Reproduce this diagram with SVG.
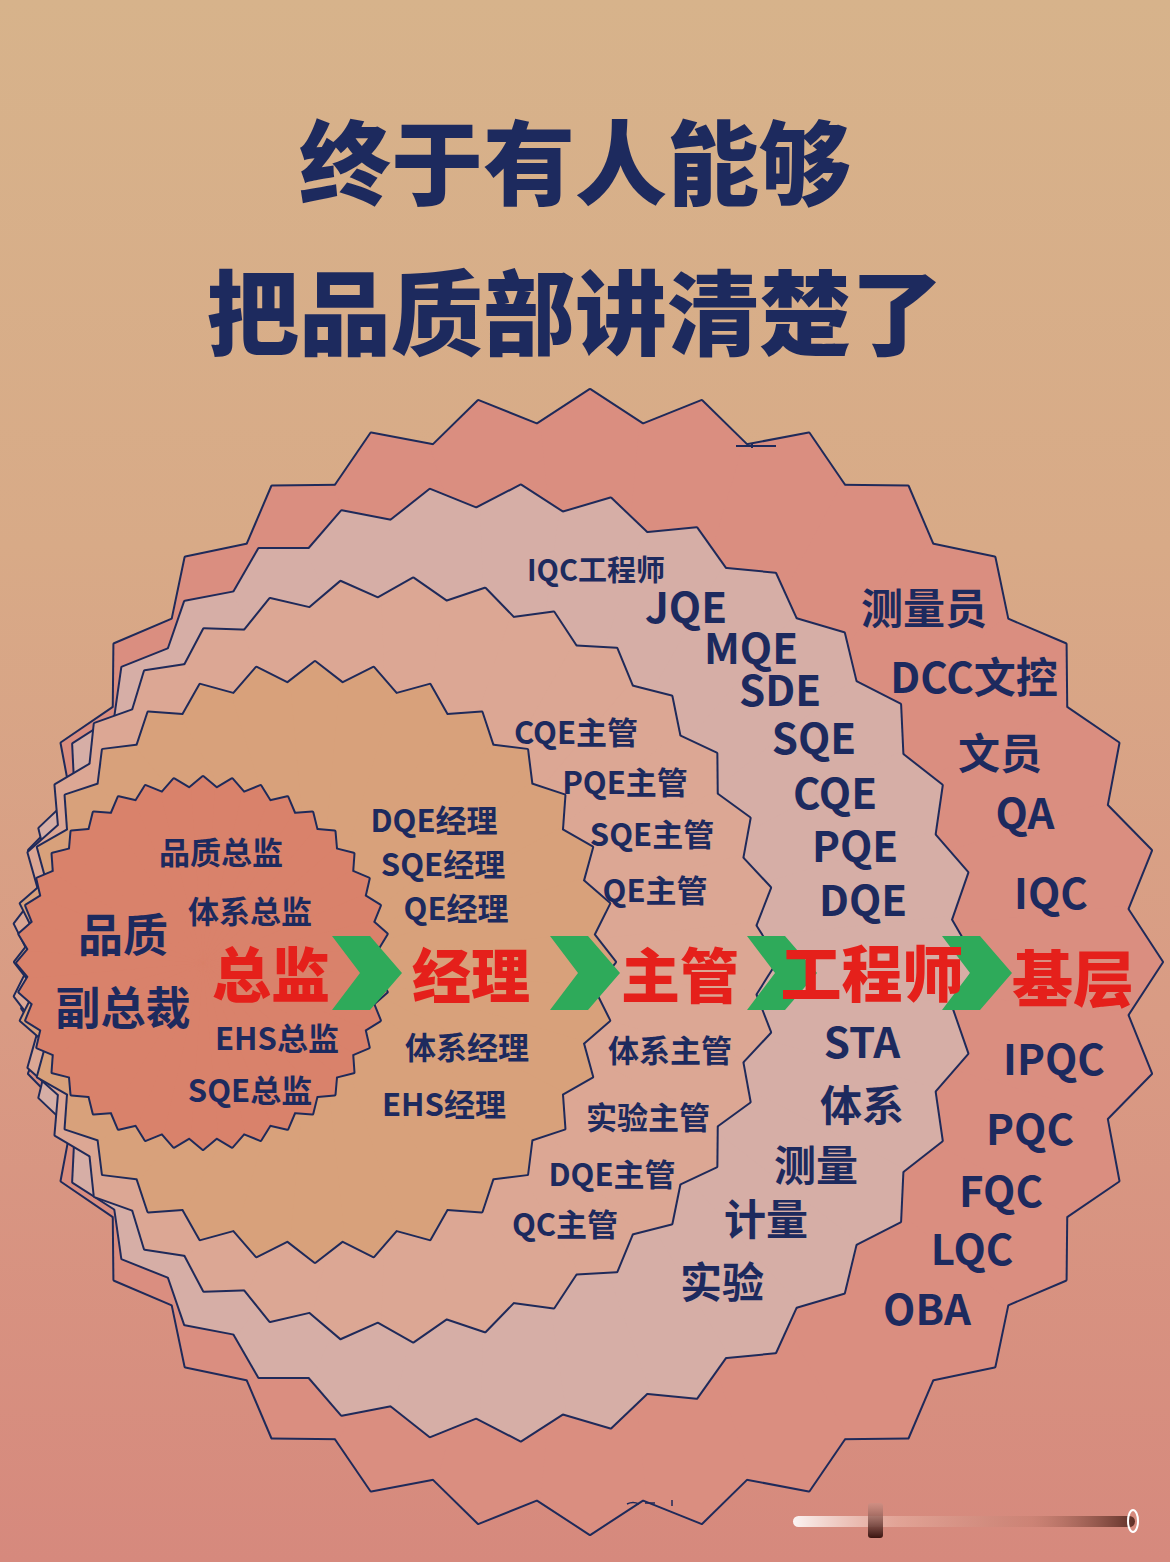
<svg xmlns="http://www.w3.org/2000/svg" xmlns:xlink="http://www.w3.org/1999/xlink" width="1170" height="1562" viewBox="0 0 1170 1562">
<style>
.ol{fill:#1f2a5a;stroke:#1f2a5a;stroke-width:4;stroke-linejoin:round}
.t{font-family:"Noto Sans CJK SC","Noto Sans CJK JP","Noto Sans",sans-serif;font-weight:700;fill:#1d2a5e;text-anchor:middle;dominant-baseline:central}
.s{font-size:31px}
.m{font-size:42px}
.b{font-size:45px}
.r{font-size:59px;fill:#e5201b;font-weight:900}
.h{font-size:92px;font-weight:900}
.chev{fill:#2eaa5a}
</style>
<defs>
<linearGradient id="bg" x1="0" y1="0" x2="0" y2="1">
<stop offset="0" stop-color="#d7b38b"/>
<stop offset="0.35" stop-color="#d8aa87"/>
<stop offset="0.65" stop-color="#d99b84"/>
<stop offset="1" stop-color="#d6897d"/>
</linearGradient>
<linearGradient id="bar" x1="0" y1="0" x2="1" y2="0">
<stop offset="0" stop-color="#ffffff" stop-opacity="0.9"/>
<stop offset="0.3" stop-color="#f0c4b6" stop-opacity="0.45"/>
<stop offset="0.7" stop-color="#b97566" stop-opacity="0.35"/>
<stop offset="1" stop-color="#4a2018" stop-opacity="0.85"/>
</linearGradient>
<linearGradient id="mark" x1="0" y1="0" x2="0" y2="1">
<stop offset="0" stop-color="#c99085" stop-opacity="0.6"/>
<stop offset="1" stop-color="#3a1410"/>
</linearGradient>
<path id="chevron" d="M0,0H38L70,37L38,74H0L28,37Z"/>
<path id="k5" d="M0,-572L56.28,-535.21L0,0L-56.28,-535.21Z"/>
<path id="k4" d="M0,-478L46.71,-450.94L0,0L-46.71,-450.94Z"/>
<path id="k3" d="M0,-382L37.80,-358.23L0,0L-37.80,-358.23Z"/>
<path id="k2" d="M0,-300L29.82,-276.81L0,0L-29.82,-276.81Z"/>
<path id="k1" d="M0,-186L15.26,-173.17L0,0L-15.26,-173.17Z"/>
<g id="s5"><circle r="432"/>
<use href="#k5"/><use href="#k5" transform="rotate(11.25)"/><use href="#k5" transform="rotate(22.5)"/><use href="#k5" transform="rotate(33.75)"/>
<use href="#k5" transform="rotate(45)"/><use href="#k5" transform="rotate(56.25)"/><use href="#k5" transform="rotate(67.5)"/><use href="#k5" transform="rotate(78.75)"/>
<use href="#k5" transform="rotate(90)"/><use href="#k5" transform="rotate(101.25)"/><use href="#k5" transform="rotate(112.5)"/><use href="#k5" transform="rotate(123.75)"/>
<use href="#k5" transform="rotate(135)"/><use href="#k5" transform="rotate(146.25)"/><use href="#k5" transform="rotate(157.5)"/><use href="#k5" transform="rotate(168.75)"/>
<use href="#k5" transform="rotate(180)"/><use href="#k5" transform="rotate(191.25)"/><use href="#k5" transform="rotate(202.5)"/><use href="#k5" transform="rotate(213.75)"/>
<use href="#k5" transform="rotate(225)"/><use href="#k5" transform="rotate(236.25)"/><use href="#k5" transform="rotate(247.5)"/><use href="#k5" transform="rotate(258.75)"/>
<use href="#k5" transform="rotate(270)"/><use href="#k5" transform="rotate(281.25)"/><use href="#k5" transform="rotate(292.5)"/><use href="#k5" transform="rotate(303.75)"/>
<use href="#k5" transform="rotate(315)"/><use href="#k5" transform="rotate(326.25)"/><use href="#k5" transform="rotate(337.5)"/><use href="#k5" transform="rotate(348.75)"/>
</g>
<g id="s4"><circle r="364"/>
<use href="#k4" transform="rotate(2.727)"/><use href="#k4" transform="rotate(13.636)"/><use href="#k4" transform="rotate(24.545)"/><use href="#k4" transform="rotate(35.455)"/>
<use href="#k4" transform="rotate(46.364)"/><use href="#k4" transform="rotate(57.273)"/><use href="#k4" transform="rotate(68.182)"/><use href="#k4" transform="rotate(79.091)"/>
<use href="#k4" transform="rotate(90)"/><use href="#k4" transform="rotate(100.909)"/><use href="#k4" transform="rotate(111.818)"/><use href="#k4" transform="rotate(122.727)"/>
<use href="#k4" transform="rotate(133.636)"/><use href="#k4" transform="rotate(144.545)"/><use href="#k4" transform="rotate(155.455)"/><use href="#k4" transform="rotate(166.364)"/>
<use href="#k4" transform="rotate(177.273)"/><use href="#k4" transform="rotate(188.182)"/><use href="#k4" transform="rotate(199.091)"/><use href="#k4" transform="rotate(210)"/>
<use href="#k4" transform="rotate(220.909)"/><use href="#k4" transform="rotate(231.818)"/><use href="#k4" transform="rotate(242.727)"/><use href="#k4" transform="rotate(253.636)"/>
<use href="#k4" transform="rotate(264.545)"/><use href="#k4" transform="rotate(275.455)"/><use href="#k4" transform="rotate(286.364)"/><use href="#k4" transform="rotate(297.273)"/>
<use href="#k4" transform="rotate(308.182)"/><use href="#k4" transform="rotate(319.091)"/><use href="#k4" transform="rotate(330)"/><use href="#k4" transform="rotate(340.909)"/>
<use href="#k4" transform="rotate(351.818)"/>
</g>
<g id="s3"><circle r="290"/>
<use href="#k3" transform="rotate(2.727)"/><use href="#k3" transform="rotate(13.636)"/><use href="#k3" transform="rotate(24.545)"/><use href="#k3" transform="rotate(35.455)"/>
<use href="#k3" transform="rotate(46.364)"/><use href="#k3" transform="rotate(57.273)"/><use href="#k3" transform="rotate(68.182)"/><use href="#k3" transform="rotate(79.091)"/>
<use href="#k3" transform="rotate(90)"/><use href="#k3" transform="rotate(100.909)"/><use href="#k3" transform="rotate(111.818)"/><use href="#k3" transform="rotate(122.727)"/>
<use href="#k3" transform="rotate(133.636)"/><use href="#k3" transform="rotate(144.545)"/><use href="#k3" transform="rotate(155.455)"/><use href="#k3" transform="rotate(166.364)"/>
<use href="#k3" transform="rotate(177.273)"/><use href="#k3" transform="rotate(188.182)"/><use href="#k3" transform="rotate(199.091)"/><use href="#k3" transform="rotate(210)"/>
<use href="#k3" transform="rotate(220.909)"/><use href="#k3" transform="rotate(231.818)"/><use href="#k3" transform="rotate(242.727)"/><use href="#k3" transform="rotate(253.636)"/>
<use href="#k3" transform="rotate(264.545)"/><use href="#k3" transform="rotate(275.455)"/><use href="#k3" transform="rotate(286.364)"/><use href="#k3" transform="rotate(297.273)"/>
<use href="#k3" transform="rotate(308.182)"/><use href="#k3" transform="rotate(319.091)"/><use href="#k3" transform="rotate(330)"/><use href="#k3" transform="rotate(340.909)"/>
<use href="#k3" transform="rotate(351.818)"/>
</g>
<g id="s2"><circle r="224"/>
<use href="#k2"/><use href="#k2" transform="rotate(11.25)"/><use href="#k2" transform="rotate(22.5)"/><use href="#k2" transform="rotate(33.75)"/>
<use href="#k2" transform="rotate(45)"/><use href="#k2" transform="rotate(56.25)"/><use href="#k2" transform="rotate(67.5)"/><use href="#k2" transform="rotate(78.75)"/>
<use href="#k2" transform="rotate(90)"/><use href="#k2" transform="rotate(101.25)"/><use href="#k2" transform="rotate(112.5)"/><use href="#k2" transform="rotate(123.75)"/>
<use href="#k2" transform="rotate(135)"/><use href="#k2" transform="rotate(146.25)"/><use href="#k2" transform="rotate(157.5)"/><use href="#k2" transform="rotate(168.75)"/>
<use href="#k2" transform="rotate(180)"/><use href="#k2" transform="rotate(191.25)"/><use href="#k2" transform="rotate(202.5)"/><use href="#k2" transform="rotate(213.75)"/>
<use href="#k2" transform="rotate(225)"/><use href="#k2" transform="rotate(236.25)"/><use href="#k2" transform="rotate(247.5)"/><use href="#k2" transform="rotate(258.75)"/>
<use href="#k2" transform="rotate(270)"/><use href="#k2" transform="rotate(281.25)"/><use href="#k2" transform="rotate(292.5)"/><use href="#k2" transform="rotate(303.75)"/>
<use href="#k2" transform="rotate(315)"/><use href="#k2" transform="rotate(326.25)"/><use href="#k2" transform="rotate(337.5)"/><use href="#k2" transform="rotate(348.75)"/>
</g>
<g id="s1"><circle r="140"/>
<use href="#k1"/><use href="#k1" transform="rotate(9)"/><use href="#k1" transform="rotate(18)"/><use href="#k1" transform="rotate(27)"/>
<use href="#k1" transform="rotate(36)"/><use href="#k1" transform="rotate(45)"/><use href="#k1" transform="rotate(54)"/><use href="#k1" transform="rotate(63)"/>
<use href="#k1" transform="rotate(72)"/><use href="#k1" transform="rotate(81)"/><use href="#k1" transform="rotate(90)"/><use href="#k1" transform="rotate(99)"/>
<use href="#k1" transform="rotate(108)"/><use href="#k1" transform="rotate(117)"/><use href="#k1" transform="rotate(126)"/><use href="#k1" transform="rotate(135)"/>
<use href="#k1" transform="rotate(144)"/><use href="#k1" transform="rotate(153)"/><use href="#k1" transform="rotate(162)"/><use href="#k1" transform="rotate(171)"/>
<use href="#k1" transform="rotate(180)"/><use href="#k1" transform="rotate(189)"/><use href="#k1" transform="rotate(198)"/><use href="#k1" transform="rotate(207)"/>
<use href="#k1" transform="rotate(216)"/><use href="#k1" transform="rotate(225)"/><use href="#k1" transform="rotate(234)"/><use href="#k1" transform="rotate(243)"/>
<use href="#k1" transform="rotate(252)"/><use href="#k1" transform="rotate(261)"/><use href="#k1" transform="rotate(270)"/><use href="#k1" transform="rotate(279)"/>
<use href="#k1" transform="rotate(288)"/><use href="#k1" transform="rotate(297)"/><use href="#k1" transform="rotate(306)"/><use href="#k1" transform="rotate(315)"/>
<use href="#k1" transform="rotate(324)"/><use href="#k1" transform="rotate(333)"/><use href="#k1" transform="rotate(342)"/><use href="#k1" transform="rotate(351)"/>
</g>
</defs>

<rect id="background" x="0" y="0" width="1170" height="1562" fill="url(#bg)"/>

<g id="title">
<text class="t h" x="575" y="157">终于有人能够</text>
<text class="t h" x="575" y="307">把品质部讲清楚了</text>
</g>

<g id="layer-jiceng" transform="translate(590 962)"><use href="#s5" class="ol"/><use href="#s5" fill="#da8e80"/></g>
<g id="layer-gongchengshi" transform="translate(498 963)"><use href="#s4" class="ol"/><use href="#s4" fill="#d6aea6"/></g>
<g id="layer-zhuguan" transform="translate(395 960)"><use href="#s3" class="ol"/><use href="#s3" fill="#dca794"/></g>
<g id="layer-jingli" transform="translate(315 962)"><use href="#s2" class="ol"/><use href="#s2" fill="#d8a17b"/></g>
<g id="layer-zongjian" transform="translate(203 963)"><use href="#s1" class="ol"/><use href="#s1" fill="#d9826b"/></g>

<g id="connectors">
<use href="#chevron" class="chev" x="332" y="936"/>
<use href="#chevron" class="chev" x="550" y="936"/>
<use href="#chevron" class="chev" x="747" y="936"/>
<use href="#chevron" class="chev" x="942" y="936"/>
</g>

<g id="node-zongjian">
<text class="t s" x="221" y="850">品质总监</text>
<text class="t s" x="250" y="909">体系总监</text>
<text class="t b" x="123" y="932">品质</text>
<text class="t b" x="123" y="1005">副总裁</text>
<text class="t s" x="277" y="1036">EHS总监</text>
<text class="t s" x="250" y="1088">SQE总监</text>
<text class="t r" x="271" y="971">总监</text>
</g>

<g id="node-jingli">
<text class="t s" x="434" y="818">DQE经理</text>
<text class="t s" x="443" y="862">SQE经理</text>
<text class="t s" x="456" y="906">QE经理</text>
<text class="t s" x="467" y="1045">体系经理</text>
<text class="t s" x="444" y="1102">EHS经理</text>
<text class="t r" x="471" y="972">经理</text>
</g>

<g id="node-zhuguan">
<text class="t s" x="576" y="730">CQE主管</text>
<text class="t s" x="625" y="780">PQE主管</text>
<text class="t s" x="652" y="832">SQE主管</text>
<text class="t s" x="655" y="888">QE主管</text>
<text class="t s" x="670" y="1048">体系主管</text>
<text class="t s" x="648" y="1115">实验主管</text>
<text class="t s" x="612" y="1172">DQE主管</text>
<text class="t s" x="565" y="1222">QC主管</text>
<text class="t r" x="680" y="972">主管</text>
</g>

<g id="node-gongchengshi">
<text class="t" style="font-size:29px" x="596" y="568">IQC工程师</text>
<text class="t m" x="686" y="604">JQE</text>
<text class="t m" x="751" y="645">MQE</text>
<text class="t m" x="780" y="687">SDE</text>
<text class="t m" x="814" y="735">SQE</text>
<text class="t m" x="835" y="790">CQE</text>
<text class="t m" x="855" y="843">PQE</text>
<text class="t m" x="863" y="897">DQE</text>
<text class="t m" x="862" y="1039">STA</text>
<text class="t m" x="862" y="1102">体系</text>
<text class="t m" x="816" y="1162">测量</text>
<text class="t m" x="766" y="1216">计量</text>
<text class="t m" x="722" y="1279">实验</text>
<text class="t r" style="font-size:61px" x="872" y="970">工程师</text>
</g>

<g id="node-jiceng">
<text class="t m" x="924" y="605">测量员</text>
<text class="t m" x="974" y="674">DCC文控</text>
<text class="t m" x="1000" y="750">文员</text>
<text class="t m" x="1025" y="810">QA</text>
<text class="t m" x="1051" y="890">IQC</text>
<text class="t m" x="1054" y="1056">IPQC</text>
<text class="t m" x="1030" y="1126">PQC</text>
<text class="t m" x="1001" y="1188">FQC</text>
<text class="t m" x="972" y="1246">LQC</text>
<text class="t m" x="927" y="1306">OBA</text>
<text class="t r" style="font-size:61px" x="1073" y="975">基层</text>
</g>

<g id="artifacts">
<path d="M736,446H776M752,444V448" stroke="#1f2a5a" stroke-width="2" fill="none"/>
<path d="M627,1504q6,-3 12,0M645,1503h10M672,1500v6" stroke="#1f2a5a" stroke-width="1.5" fill="none"/>
<rect x="793" y="1516" width="342" height="11" rx="5.5" fill="url(#bar)"/>
<rect x="868" y="1503" width="15" height="35" rx="3" fill="url(#mark)"/>
<ellipse cx="1133" cy="1521" rx="5" ry="11" fill="none" stroke="#ffffff" stroke-width="2"/>
</g>
</svg>
